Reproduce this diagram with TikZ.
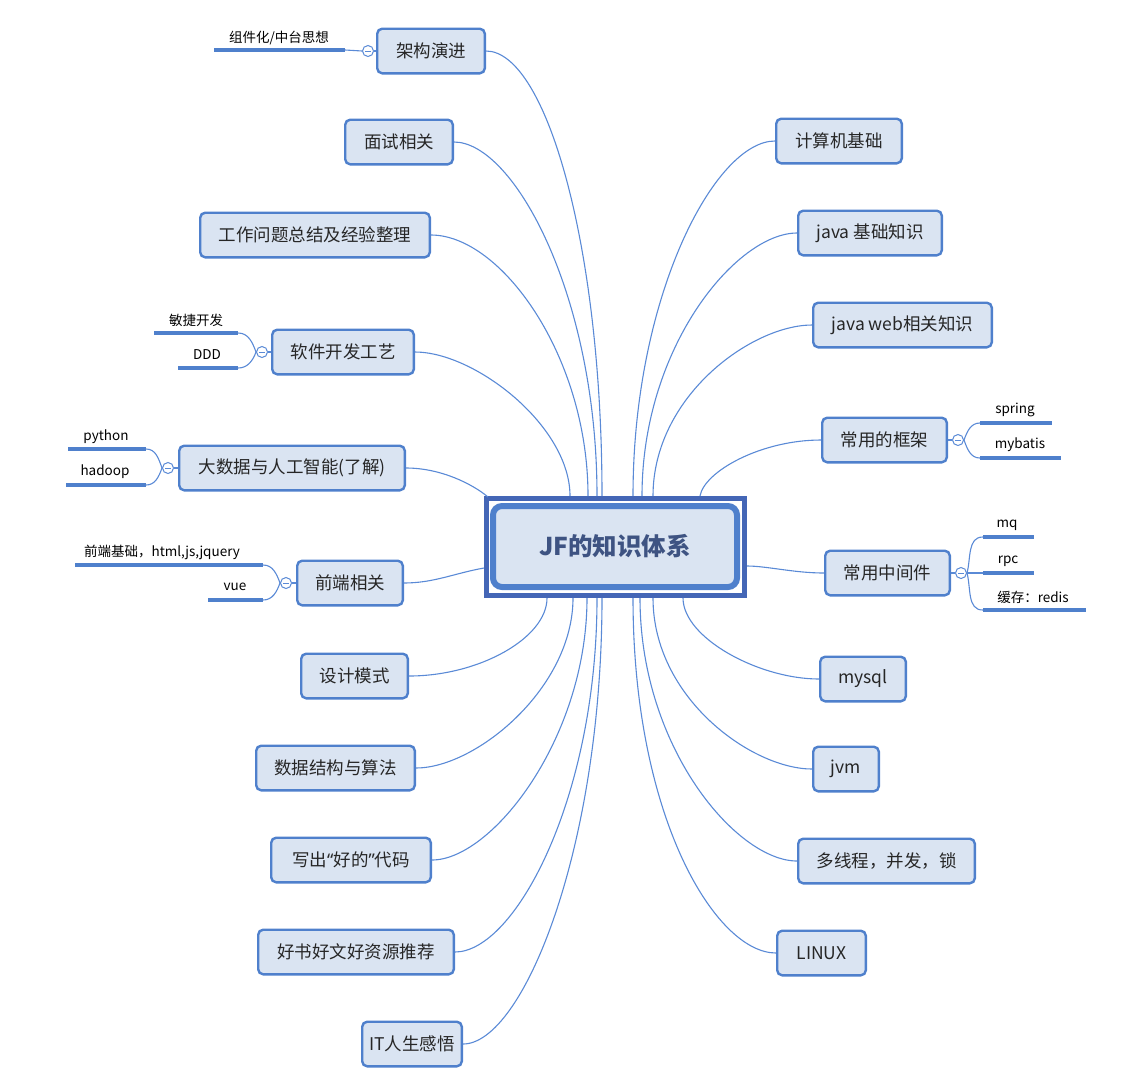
\documentclass[tikz,border=0pt]{standalone}
\usepackage{fontspec}
\setmainfont{Noto Sans CJK SC}
\newfontfamily\latinq{Noto Sans}
\definecolor{bfill}{HTML}{DAE4F2}
\definecolor{bbord}{HTML}{4F80CC}
\definecolor{lblue}{HTML}{5A8AD6}
\definecolor{frame}{HTML}{4466B6}
\definecolor{ctext}{HTML}{3E5382}
\definecolor{btext}{HTML}{262626}
\tikzset{
  branch/.style={draw=bbord, fill=bfill, line width=2.4pt, rounded corners=5pt,
    minimum height=44.6pt, inner xsep=0pt, font=\fontsize{17.5}{19}\selectfont, text=btext},
  bw/.style={minimum width=#1pt-2.4pt},
  conn/.style={draw=lblue, line width=1.1pt},
  knob/.style={circle, draw=lblue, fill=white, line width=1pt, minimum size=11pt, inner sep=0pt,
    path picture={\draw[lblue, line width=0.9pt] ([xshift=-2.8pt]path picture bounding box.center) -- ([xshift=2.8pt]path picture bounding box.center);}},
  uline/.style={fill=bbord, inner sep=0pt, minimum height=3.6pt},
  ul/.style={uline, minimum width=#1pt},
  subt/.style={font=\fontsize{13.5}{15}\selectfont, text=black, inner sep=0pt},
}
\begin{document}
\begin{tikzpicture}[x=1pt,y=1pt]
\path[use as bounding box] (0,0) rectangle (1142,-1080);

% central topic
\node[draw=frame, line width=5pt, minimum width=258pt, minimum height=97pt] (cf) at (615.5,-547) {};
\node[draw=bbord, fill=bfill, line width=6pt, rounded corners=9pt, minimum width=244pt, minimum height=81pt,
  font=\fontsize{24.5}{26}\selectfont\bfseries, text=ctext] (c) at (615,-546.5) {JF的知识体系};

% left branches
\node[branch, bw=110] (jg) at (431,-51) {架构演进};
\node[branch, bw=110] (ms) at (399,-142) {面试相关};
\node[branch, bw=232] (gz) at (315,-235) {工作问题总结及经验整理};
\node[branch, bw=144] (rj) at (343,-352) {软件开发工艺};
\node[branch, bw=228] (dsj) at (292,-468) {大数据与人工智能(了解)};
\node[branch, bw=108] (qd) at (350,-583) {前端相关};
\node[branch, bw=109] (sj) at (354.5,-676) {设计模式};
\node[branch, bw=161] (sf) at (335.5,-768) {数据结构与算法};
\node[branch, bw=162] (xc) at (351,-860) {写出{\latinq“}好的{\latinq”}代码};
\node[branch, bw=198] (hs) at (356,-952) {好书好文好资源推荐};
\node[branch, bw=102] (it) at (412,-1044) {IT人生感悟};

% right branches
\node[branch, bw=128] (jsj) at (839,-141) {计算机基础};
\node[branch, bw=146] (jb) at (870,-233) {java 基础知识};
\node[branch, bw=181] (jw) at (902.5,-325) {java web相关知识};
\node[branch, bw=127] (kj) at (884.5,-440) {常用的框架};
\node[branch, bw=127] (zj) at (887.5,-573) {常用中间件};
\node[branch, bw=88] (my) at (863,-679) {mysql};
\node[branch, bw=68] (jv) at (846,-769) {jvm};
\node[branch, bw=179] (dx) at (886.5,-861) {多线程，并发，锁};
\node[branch, bw=91] (lx) at (821.5,-953) {LINUX};

% attachment points on the central frame
\coordinate (t1) at (602,-496);
\coordinate (t2) at (597,-496);
\coordinate (t3) at (588,-496);
\coordinate (t4) at (570,-496);
\coordinate (t5) at (488,-497);
\coordinate (t6) at (484,-568);
\coordinate (r1) at (633,-496);
\coordinate (r2) at (642,-496);
\coordinate (r3) at (653,-496);
\coordinate (r4) at (700,-496);
\coordinate (r5) at (747,-566);
\coordinate (b1) at (547,-598);
\coordinate (b2) at (573,-598);
\coordinate (b3) at (587,-598);
\coordinate (b4) at (597,-598);
\coordinate (b5) at (602,-598);
\coordinate (s1) at (683,-598);
\coordinate (s2) at (653,-598);
\coordinate (s3) at (640,-598);
\coordinate (s4) at (633,-598);

% connectors left top
\draw[conn] (jg.east) to[out=0,in=90,out distance=60pt,in distance=250pt] (t1);
\draw[conn] (ms.east) to[out=0,in=90,out distance=60pt,in distance=200pt] (t2);
\draw[conn] (gz.east) to[out=0,in=90,out distance=70pt,in distance=140pt] (t3);
\draw[conn] (rj.east) to[out=0,in=90,out distance=60pt,in distance=70pt] (t4);
\draw[conn] (dsj.east) to[out=0,in=140,out distance=35pt,in distance=20pt] (t5);
\draw[conn] (qd.east) to[out=0,in=190,out distance=30pt,in distance=30pt] (t6);
% left bottom
\draw[conn] (sj.east) to[out=0,in=-90,out distance=70pt,in distance=40pt] (b1);
\draw[conn] (sf.east) to[out=0,in=-90,out distance=60pt,in distance=90pt] (b2);
\draw[conn] (xc.east) to[out=0,in=-90,out distance=60pt,in distance=140pt] (b3);
\draw[conn] (hs.east) to[out=0,in=-90,out distance=60pt,in distance=200pt] (b4);
\draw[conn] (it.east) to[out=0,in=-90,out distance=60pt,in distance=250pt] (b5);
% right top
\draw[conn] (jsj.west) to[out=180,in=90,out distance=60pt,in distance=200pt] (r1);
\draw[conn] (jb.west) to[out=180,in=90,out distance=60pt,in distance=150pt] (r2);
\draw[conn] (jw.west) to[out=180,in=90,out distance=60pt,in distance=100pt] (r3);
\draw[conn] (kj.west) to[out=180,in=80,out distance=60pt,in distance=25pt] (r4);
\draw[conn] (zj.west) to[out=180,in=0,out distance=30pt,in distance=20pt] (r5);
% right bottom
\draw[conn] (my.west) to[out=180,in=-90,out distance=60pt,in distance=40pt] (s1);
\draw[conn] (jv.west) to[out=180,in=-90,out distance=60pt,in distance=100pt] (s2);
\draw[conn] (dx.west) to[out=180,in=-90,out distance=60pt,in distance=150pt] (s3);
\draw[conn] (lx.west) to[out=180,in=-90,out distance=60pt,in distance=220pt] (s4);

% sub topics: 架构演进
\node[knob] (kjg) at (368,-51) {};
\node[uline, ul=131] (ujg) at (279.5,-50) {};
\node[subt] (tjg) at (279,-38) {组件化/中台思想};
\draw[conn] (jg.west) -- (kjg.east);
\draw[conn] (kjg.west) -- (ujg.east);

% 软件开发工艺
\node[knob] (krj) at (262,-352) {};
\node[uline, ul=84] (urj1) at (196,-333) {};
\node[subt] (trj1) at (196,-320) {敏捷开发};
\node[uline, ul=60] (urj2) at (208,-368) {};
\node[subt] (trj2) at (207,-355) {DDD};
\draw[conn] (rj.west) -- (krj.east);
\draw[conn] (krj.west) to[out=110,in=0] (urj1.east);
\draw[conn] (krj.west) to[out=-110,in=0] (urj2.east);

% 大数据
\node[knob] (kdsj) at (168,-468) {};
\node[uline, ul=78] (udsj1) at (107,-449) {};
\node[subt] (tdsj1) at (106,-437) {python};
\node[uline, ul=80] (udsj2) at (106,-485) {};
\node[subt] (tdsj2) at (105,-472) {hadoop};
\draw[conn] (dsj.west) -- (kdsj.east);
\draw[conn] (kdsj.west) to[out=110,in=0] (udsj1.east);
\draw[conn] (kdsj.west) to[out=-110,in=0] (udsj2.east);

% 前端相关
\node[knob] (kqd) at (286,-583) {};
\node[uline, ul=188] (uqd1) at (169,-565) {};
\node[subt] (tqd1) at (162,-552) {前端基础，html,js,jquery};
\node[uline, ul=55] (uqd2) at (235.5,-600) {};
\node[subt] (tqd2) at (235,-587) {vue};
\draw[conn] (qd.west) -- (kqd.east);
\draw[conn] (kqd.west) to[out=110,in=0] (uqd1.east);
\draw[conn] (kqd.west) to[out=-110,in=0] (uqd2.east);

% 常用的框架
\node[knob] (kkj) at (958,-440) {};
\node[uline, ul=72] (ukj1) at (1016,-423) {};
\node[subt] (tkj1) at (1015,-410) {spring};
\node[uline, ul=81] (ukj2) at (1020.5,-458) {};
\node[subt] (tkj2) at (1020,-445) {mybatis};
\draw[conn] (kj.east) -- (kkj.west);
\draw[conn] (kkj.east) to[out=70,in=180] (ukj1.west);
\draw[conn] (kkj.east) to[out=-70,in=180] (ukj2.west);

% 常用中间件
\node[knob] (kzj) at (961,-573) {};
\node[uline, ul=51] (uzj1) at (1008.5,-537) {};
\node[subt] (tzj1) at (1007,-525) {mq};
\node[uline, ul=51] (uzj2) at (1008.5,-573) {};
\node[subt] (tzj2) at (1008,-561) {rpc};
\node[uline, ul=103] (uzj3) at (1034.5,-610) {};
\node[subt] (tzj3) at (1033,-597) {缓存：redis};
\draw[conn] (zj.east) -- (kzj.west);
\draw[conn] (kzj.east) to[out=75,in=180] (uzj1.west);
\draw[conn] (kzj.east) -- (uzj2.west);
\draw[conn] (kzj.east) to[out=-75,in=180] (uzj3.west);
\end{tikzpicture}
\end{document}
